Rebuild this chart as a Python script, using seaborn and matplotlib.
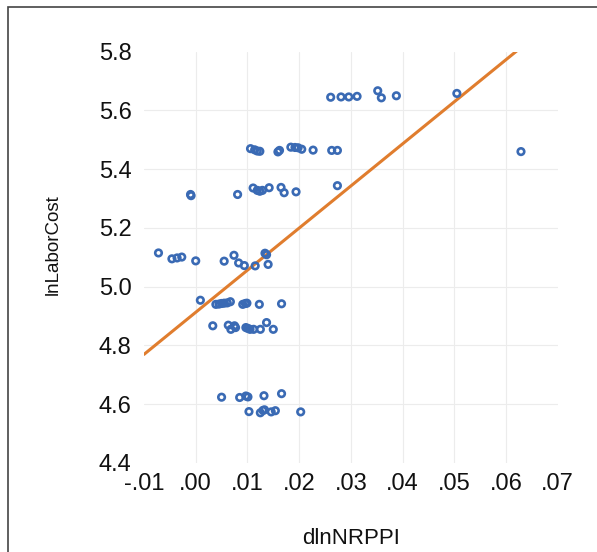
import matplotlib
matplotlib.use("Agg")
import matplotlib.pyplot as plt
from matplotlib.patches import Rectangle
from matplotlib.ticker import FuncFormatter
import seaborn as sns
import numpy as np
import pandas as pd

# scatter values, one row of points at a time
x_row1 = [0.0261, 0.0281, 0.0296, 0.0312, 0.0352, 0.0359, 0.0388, 0.0505]
y_row1 = [5.645, 5.646, 5.646, 5.648, 5.667, 5.643, 5.650, 5.658]

x_row2 = [0.0106, 0.0114, 0.0119, 0.0124, 0.0159, 0.0162, 0.0184, 0.0192,
          0.0198, 0.0205, 0.0227, 0.0263, 0.0274, 0.0629]
y_row2 = [5.470, 5.466, 5.462, 5.461, 5.459, 5.464, 5.475, 5.474,
          5.473, 5.468, 5.465, 5.464, 5.464, 5.460]

x_row3 = [-0.0010, -0.0009, 0.0081, 0.0111, 0.0119, 0.0124, 0.0129, 0.0142,
          0.0165, 0.0171, 0.0194, 0.0274]
y_row3 = [5.314, 5.310, 5.314, 5.336, 5.328, 5.325, 5.328, 5.337,
          5.338, 5.320, 5.323, 5.344]

x_row4 = [-0.0072, -0.0046, -0.0036, -0.0027, 0.0000, 0.0055, 0.0074, 0.0083,
          0.0094, 0.0115, 0.0134, 0.0137, 0.0140]
y_row4 = [5.115, 5.095, 5.098, 5.101, 5.088, 5.087, 5.107, 5.081,
          5.072, 5.071, 5.114, 5.109, 5.076]

x_row5 = [0.0009, 0.0039, 0.0045, 0.0050, 0.0055, 0.0061, 0.0067, 0.0091,
          0.0096, 0.0099, 0.0123, 0.0166]
y_row5 = [4.954, 4.940, 4.941, 4.943, 4.944, 4.945, 4.949, 4.940,
          4.943, 4.944, 4.940, 4.942]

x_row6 = [0.0033, 0.0063, 0.0068, 0.0075, 0.0077, 0.0097, 0.0101, 0.0105,
          0.0112, 0.0125, 0.0137, 0.0150]
y_row6 = [4.867, 4.869, 4.855, 4.867, 4.861, 4.861, 4.858, 4.855,
          4.855, 4.855, 4.878, 4.855]

x_row7 = [0.0050, 0.0085, 0.0097, 0.0101, 0.0132, 0.0166]
y_row7 = [4.624, 4.623, 4.628, 4.625, 4.629, 4.636]

x_row8 = [0.0103, 0.0125, 0.0130, 0.0133, 0.0146, 0.0154, 0.0203]
y_row8 = [4.575, 4.571, 4.579, 4.581, 4.574, 4.578, 4.574]

# fitted line as drawn on the chart
fit_slope = 14.33
fit_intercept = 4.913

x_ticks = [-0.01, 0.00, 0.01, 0.02, 0.03, 0.04, 0.05, 0.06, 0.07]
y_ticks = [4.4, 4.6, 4.8, 5.0, 5.2, 5.4, 5.6, 5.8]

BLUE = '#3a6ab4'
ORANGE = '#e07d2e'

W, H = 597, 552

df = pd.DataFrame({
    'dlnNRPPI': x_row1 + x_row2 + x_row3 + x_row4 + x_row5 + x_row6 + x_row7 + x_row8,
    'lnLaborCost': y_row1 + y_row2 + y_row3 + y_row4 + y_row5 + y_row6 + y_row7 + y_row8,
})

sns.set_style("white")
plt.rcParams['font.family'] = ['Liberation Sans', 'DejaVu Sans']

fig = plt.figure(figsize=(W / 100, H / 100), dpi=100)
ax = fig.add_axes([144 / W, 1 - 463 / H, (557.7 - 144) / W, (463 - 51.7) / H])

fit_x = np.array([x_ticks[0], x_ticks[-1]])
sns.lineplot(x=fit_x, y=fit_intercept + fit_slope * fit_x, color=ORANGE, linewidth=2.2, ax=ax)
sns.scatterplot(data=df, x='dlnNRPPI', y='lnLaborCost', ax=ax, marker='o', s=22,
                facecolors='none', edgecolor=BLUE, linewidth=1.9, zorder=3)

ax.set_xlim(x_ticks[0], x_ticks[-1])
ax.set_ylim(y_ticks[0], y_ticks[-1])
ax.set_xticks(x_ticks)
ax.set_yticks(y_ticks)
ax.xaxis.set_major_formatter(FuncFormatter(lambda v, p: f'{v:.2f}'.replace('0.', '.', 1)))
ax.yaxis.set_major_formatter(FuncFormatter(lambda v, p: f'{v:.1f}'))
ax.tick_params(axis='both', length=0, labelsize=17, colors='#111111')
ax.tick_params(axis='x', pad=7)
ax.tick_params(axis='y', pad=9)

for s in ax.spines.values():
    s.set_visible(False)

ax.grid(True, color='#ececec', linewidth=0.8)
ax.set_axisbelow(True)
for gl, t in zip(ax.get_xgridlines(), x_ticks):
    if t in (x_ticks[0], x_ticks[-1]):
        gl.set_visible(False)
for gl, t in zip(ax.get_ygridlines(), y_ticks):
    if t in (y_ticks[0], y_ticks[-1]):
        gl.set_visible(False)

ax.set_xlabel('dlnNRPPI', fontsize=16, color='#111111')
ax.set_ylabel('lnLaborCost', fontsize=13.5, color='#111111')
ax.xaxis.set_label_coords(0.5, -0.158)
ax.yaxis.set_label_coords(-0.198, 0.53)

# outer frame of the original screenshot
fig.patches.append(Rectangle((8 / W, -0.1), 1.2, (H - 7) / H + 0.1, transform=fig.transFigure,
                             fill=False, edgecolor='#444444', linewidth=1.2))

fig.savefig('out.png', dpi=100)
